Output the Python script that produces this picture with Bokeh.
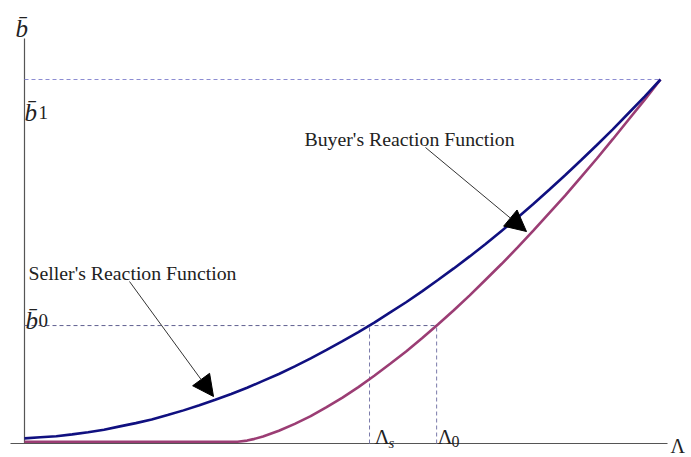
from bokeh.plotting import figure
from bokeh.models import Range1d, Arrow, NormalHead, Label
from bokeh.embed import file_html
from bokeh.resources import INLINE

# ---- data (normalized: Lambda on x, b-bar on y) ----
lam = [0.0, 0.025, 0.05, 0.075, 0.10, 0.125, 0.15, 0.175, 0.20, 0.225, 0.25, 0.275,
       0.30, 0.325, 0.35, 0.375, 0.40, 0.425, 0.45, 0.475, 0.50, 0.525, 0.55, 0.575,
       0.60, 0.625, 0.65, 0.675, 0.70, 0.725, 0.75, 0.775, 0.80, 0.825, 0.85, 0.875,
       0.90, 0.925, 0.95, 0.975, 1.0]
seller = [0.014, 0.017, 0.020, 0.025, 0.031, 0.038, 0.047, 0.056, 0.066, 0.078, 0.091, 0.105,
          0.120, 0.136, 0.153, 0.172, 0.191, 0.212, 0.234, 0.257, 0.281, 0.306, 0.332, 0.360,
          0.388, 0.418, 0.449, 0.481, 0.514, 0.548, 0.584, 0.620, 0.658, 0.697, 0.737, 0.778,
          0.820, 0.863, 0.908, 0.953, 1.0]
lam_b = [0.0, 0.10, 0.20, 0.30, 0.335, 0.35, 0.36, 0.375, 0.40, 0.425, 0.45, 0.475, 0.50,
         0.525, 0.55, 0.575, 0.60, 0.625, 0.65, 0.675, 0.70, 0.725, 0.75, 0.775, 0.80,
         0.825, 0.85, 0.875, 0.90, 0.925, 0.95, 0.975, 1.0]
buyer = [0.005, 0.005, 0.005, 0.005, 0.005, 0.008, 0.012, 0.019, 0.035, 0.054, 0.075, 0.100, 0.126,
         0.155, 0.186, 0.219, 0.253, 0.289, 0.327, 0.366, 0.407, 0.450, 0.493, 0.538, 0.585,
         0.633, 0.681, 0.732, 0.783, 0.836, 0.890, 0.944, 1.0]
lam_s = 0.5425
lam_0 = 0.648
b0 = 0.324
b1 = 1.0

W, H = 691, 457
OFF = 0  # figure's top-left corner on the page
# page->data helpers for annotation placement (origin of axes at page px (24,443))
def px(x): return (x - 24) / 636.0
def py(y): return (443 - y) / 364.0

p = figure(width=W, height=H, output_backend="svg", toolbar_location=None,
           x_range=Range1d(px(OFF), px(OFF + W)), y_range=Range1d(py(OFF + H), py(OFF)),
           min_border=0, outline_line_color=None, x_axis_type=None, y_axis_type=None)
p.grid.visible = False
p.background_fill_color = "white"
p.border_fill_color = "white"

# axes
p.segment(x0=[px(10)], y0=[0], x1=[px(667)], y1=[0], line_color="#555555", line_width=1.2)
p.segment(x0=[0], y0=[0], x1=[0], y1=[py(38)], line_color="#555555", line_width=1.2)

# dashed guides
p.segment(x0=[0], y0=[b1], x1=[1.0], y1=[b1], line_color="#8c8cd2", line_width=1, line_dash="4 3")
p.segment(x0=[0], y0=[b0], x1=[lam_0], y1=[b0], line_color="#5f5f8f", line_width=1, line_dash="4 3")
p.segment(x0=[lam_s, lam_0], y0=[0, 0], x1=[lam_s, lam_0], y1=[b0, b0],
          line_color="#7a7aaa", line_width=1, line_dash="4 3")

# curves
p.line(lam_b, buyer, line_color="#9b3d74", line_width=2.6)
p.line(lam, seller, line_color="#101080", line_width=2.6)

# arrows
for (xs, ys, xe, ye) in [(px(425), py(147), px(526), py(231)),
                         (px(129), py(281), px(213), py(396))]:
    p.add_layout(Arrow(x_start=xs, y_start=ys, x_end=xe, y_end=ye,
                       line_color="#333333", line_width=1,
                       end=NormalHead(size=21, fill_color="black", line_color="black")))

serif = "Liberation Serif"
def lab(text, x, y, size, style="normal"):
    p.add_layout(Label(x=px(x), y=py(y), text=text, text_font=serif,
                       text_font_size=f"{size}px", text_font_style=style,
                       text_color="#222222", text_baseline="alphabetic"))

lab("Buyer's Reaction Function", 304, 138, 19.8)
lab("Seller's Reaction Function", 28, 272, 19.8)

lab("b\u0304", 15, 28, 25, "italic")
lab("b\u0304", 24, 112, 25, "italic")
lab("1", 38, 112, 19)
lab("b\u0304", 25, 320, 25, "italic")
lab("0", 38, 320, 19)
lab("\u039b", 374, 436, 21)
lab("s", 388, 442, 15, "italic")
lab("\u039b", 437, 436, 21)
lab("0", 451, 441, 16)
lab("\u039b", 670, 445, 20)

open("out.html", "w").write(file_html(p, INLINE))
